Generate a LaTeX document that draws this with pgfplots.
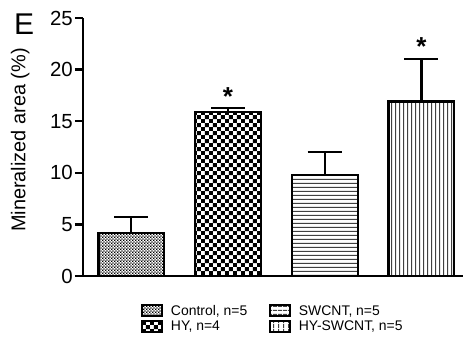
\documentclass[border=0pt]{standalone}
\usepackage{graphicx}
\usepackage{pgfplots}
\pgfplotsset{compat=1.18}
\usepackage{fontspec}
\setmainfont{Liberation Sans}
\usetikzlibrary{patterns.meta}
\tikzdeclarepattern{name=finecheck,type=uncolored,bottom left={(0,0)},top right={(3.2bp,3.2bp)},tile size={(3.2bp,3.2bp)},
  code={\fill (0,0) rectangle (1.6bp,1.6bp); \fill (1.6bp,1.6bp) rectangle (3.2bp,3.2bp);}}
\tikzdeclarepattern{name=bigcheck,type=uncolored,bottom left={(0,0)},top right={(8.4bp,8.4bp)},tile size={(8.4bp,8.4bp)},
  code={\fill (0,0) rectangle (4.2bp,4.2bp); \fill (4.2bp,4.2bp) rectangle (8.4bp,8.4bp);}}
\tikzdeclarepattern{name=hlin,type=uncolored,bottom left={(0,0)},top right={(4.4bp,4.4bp)},tile size={(4.4bp,4.4bp)},
  code={\fill (0,0) rectangle (4.4bp,1.3bp);}}
\tikzdeclarepattern{name=vlin,type=uncolored,bottom left={(0,0)},top right={(4.4bp,4.4bp)},tile size={(4.4bp,4.4bp)},
  code={\fill (0,0) rectangle (1.3bp,4.4bp);}}
\newcommand{\TL}[1]{\scalebox{2.05}{#1}}
\newcommand{\LE}[1]{\scalebox{1.4}{#1}}
\begin{document}
\begin{tikzpicture}
\useasboundingbox (-83bp,-65bp) rectangle (380bp,276bp);
\begin{axis}[
  scale only axis, width=380bp, height=258bp,
  xmin=-0.5, xmax=3.43, ymin=0, ymax=25,
  axis x line=bottom, axis y line=left,
  axis line style={-, line width=2.3bp},
  xtick=\empty,
  ytick={0,5,...,25},
  yticklabels={\TL{0},\TL{5},\TL{10},\TL{15},\TL{20},\TL{25}},
  tick align=outside, major tick length=8bp,
  ytick style={line width=2.3bp, black},
  yticklabel style={inner sep=2bp},
  ylabel={\scalebox{2.0}{Mineralized area (\%)}},
  ylabel style={at={(axis description cs:-0.165,0.527)}, anchor=center},
  ybar, bar shift=0pt, bar width=0.68,
  clip=false,
  every axis plot/.append style={draw=black, line width=2.2bp},
  error bars/y dir=plus, error bars/y explicit,
  error bars/error bar style={line width=2.2bp, black},
  error bars/error mark options={rotate=90, mark size=17bp, line width=2.2bp, black},
  legend columns=2, transpose legend,
  legend style={draw=none, at={(axis description cs:0.5,-0.1)}, anchor=north,
    column sep=6bp, row sep=1bp, nodes={inner ysep=1.5bp},
    /tikz/column 2/.style={column sep=20bp}},
  legend cell align=left,
  legend image code/.code={\draw[#1, line width=1.6bp] (0bp,-5bp) rectangle (20bp,6bp);},
]
\addplot[pattern={finecheck}, pattern color=black] coordinates {(0,4.2) +- (0,1.5)};
\addlegendentry{\LE{Control, n=5}}
\addplot[pattern={bigcheck}, pattern color=black] coordinates {(1,15.9) +- (0,0.35)};
\addlegendentry{\LE{HY, n=4}}
\addplot[pattern={hlin}, pattern color=black!75] coordinates {(2,9.8) +- (0,2.2)};
\addlegendentry{\LE{SWCNT, n=5}}
\addplot[pattern={vlin}, pattern color=black!75] coordinates {(3,16.9) +- (0,4.1)};
\addlegendentry{\LE{HY-SWCNT, n=5}}
\node[font=\fontsize{26bp}{28bp}\selectfont\bfseries] at (axis cs:1,17.4) {*};
\node[font=\fontsize{26bp}{28bp}\selectfont\bfseries] at (axis cs:3,22.2) {*};
\node[font=\fontsize{30bp}{32bp}\selectfont] at (axis description cs:-0.155,0.975) {E};
\end{axis}
\end{tikzpicture}
\end{document}
